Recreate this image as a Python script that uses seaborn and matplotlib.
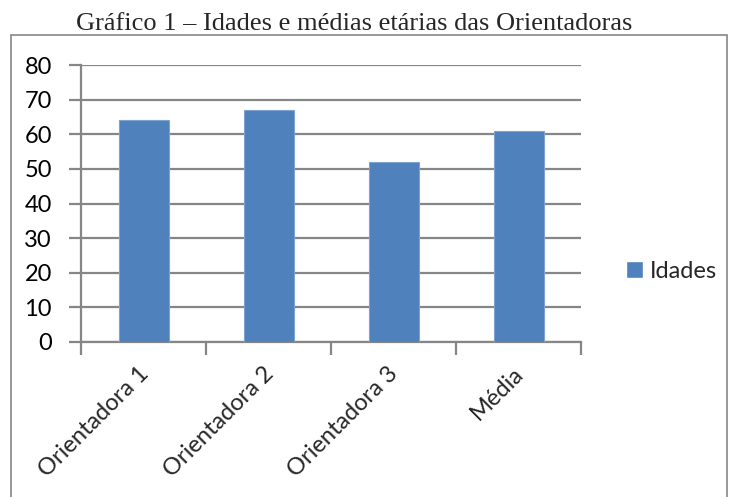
import matplotlib
matplotlib.use("Agg")
import matplotlib.pyplot as plt
import matplotlib.transforms as mtransforms
import seaborn as sns
import pandas as pd
from matplotlib.patches import Rectangle, Patch

categories = ["Orientadora 1", "Orientadora 2", "Orientadora 3", "Média"]
idades = [64, 67, 52, 61]
yticks = [0, 10, 20, 30, 40, 50, 60, 70, 80]
title = "Gráfico 1 – Idades e médias etárias das Orientadoras"
series_name = "Idades"

sns.set_theme(style="white")
plt.rcParams['font.family'] = ['Lato', 'DejaVu Sans']

W, H = 735, 497
FS = 17
fig = plt.figure(figsize=(W / 100, H / 100), dpi=100)
ax = fig.add_axes([81 / W, 1 - 342 / H, 500 / W, 277 / H])

df = pd.DataFrame({"cat": categories, "val": idades})
sns.barplot(data=df, x="cat", y="val", color="#4F81BD", saturation=1,
            width=0.4, ax=ax, zorder=3, edgecolor="#7FA3D1", linewidth=0.8)

ax.set_ylim(0, 80)
ax.set_xlim(-0.5, 3.5)
ax.set_yticks(yticks)
ax.set_xlabel("")
ax.set_ylabel("")
ax.grid(axis="y", color="#868686", linewidth=1.6, zorder=0)
ax.set_axisbelow(True)
for s in ["top", "right"]:
    ax.spines[s].set_visible(False)
for s in ["left", "bottom"]:
    ax.spines[s].set_color("#868686")
    ax.spines[s].set_linewidth(1.6)

ax.tick_params(axis="y", length=9, width=1.6, color="#868686", labelsize=FS,
               labelcolor="black", pad=12, left=True)
ax.set_xticks(range(len(categories)))
ax.set_xticklabels(categories, rotation=45, ha="right", rotation_mode="anchor",
                   fontsize=FS)
ax.tick_params(axis="x", which="major", length=0, pad=15)
offset = mtransforms.ScaledTranslation(-6 / 100, 0, fig.dpi_scale_trans)
for lab in ax.get_xticklabels():
    lab.set_transform(lab.get_transform() + offset)
ax.set_xticks([-0.5, 0.5, 1.5, 2.5, 3.5], minor=True)
ax.tick_params(axis="x", which="minor", length=9, width=1.6, color="#868686",
               bottom=True)

fig.legend(handles=[Patch(facecolor="#4F81BD", label=series_name)],
           loc="center left", bbox_to_anchor=(626 / W, 1 - 271 / H),
           frameon=False, fontsize=FS, handlelength=0.7, handleheight=0.7,
           handletextpad=0.3, borderaxespad=0, borderpad=0)

fig.patches.append(Rectangle((11 / W, -0.05), 716 / W, 1.05 - 35 / H,
                             transform=fig.transFigure, fill=False,
                             edgecolor="#868686", linewidth=1.2))

fig.text(354 / W, 1 - 30 / H, title, ha="center", va="baseline",
         fontsize=19, family=["Liberation Serif", "DejaVu Serif"])

fig.savefig("out.png", dpi=100)
